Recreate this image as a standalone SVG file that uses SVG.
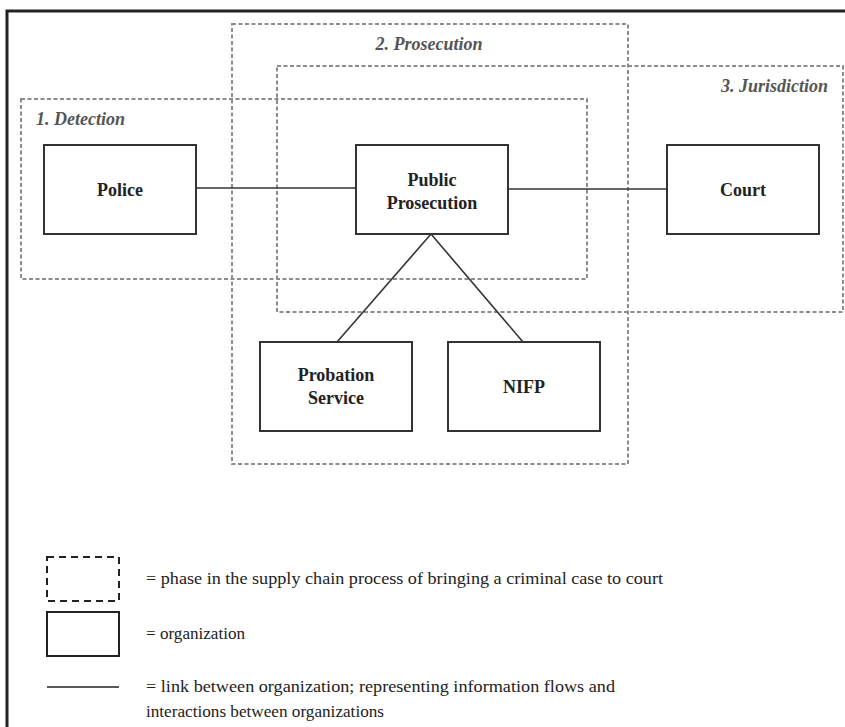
<svg xmlns="http://www.w3.org/2000/svg" width="845" height="727" viewBox="0 0 845 727">
<style>
.phase{fill:none;stroke:#8c8c8c;stroke-width:2;stroke-dasharray:4 2.5}
.org{fill:#fff;stroke:#333;stroke-width:2}
.link{stroke:#333;stroke-width:1.6;fill:none}
text{font-family:"Liberation Serif","Times New Roman",Times,"DejaVu Serif",serif}
.plabel{font-size:18px;font-weight:bold;font-style:italic;fill:#555}
.olabel{font-size:18px;font-weight:bold;fill:#222;text-anchor:middle}
.leg{font-size:17px;fill:#222}
</style>
<rect width="845" height="727" fill="#fff"/>
<g id="frame">
<path d="M7 727 V11 H845" fill="none" stroke="#222" stroke-width="3"/>
</g>
<g id="phase-prosecution">
<rect class="phase" x="232" y="24" width="396" height="440"/>
<text class="plabel" x="429" y="50" text-anchor="middle" font-family="Liberation Serif, serif">2. Prosecution</text>
</g>
<g id="phase-jurisdiction">
<rect class="phase" x="277" y="66" width="566" height="246"/>
<text class="plabel" x="828" y="92" text-anchor="end" font-family="Liberation Serif, serif">3. Jurisdiction</text>
</g>
<g id="phase-detection">
<rect class="phase" x="21" y="99" width="566" height="180"/>
<text class="plabel" x="36" y="125" font-family="Liberation Serif, serif">1. Detection</text>
</g>
<g id="connectors">
<line class="link" x1="196" y1="188" x2="356" y2="188"/>
<line class="link" x1="508" y1="189" x2="667" y2="189"/>
<line class="link" x1="431" y1="234" x2="337" y2="342"/>
<line class="link" x1="431" y1="234" x2="523" y2="342"/>
</g>
<g id="police">
<rect class="org" x="44" y="145" width="152" height="89"/>
<text class="olabel" x="120" y="196">Police</text>
</g>
<g id="public-prosecution">
<rect class="org" x="356" y="145" width="152" height="89"/>
<text class="olabel" x="432" y="186">Public</text>
<text class="olabel" x="432" y="209">Prosecution</text>
</g>
<g id="court">
<rect class="org" x="667" y="145" width="152" height="89"/>
<text class="olabel" x="743" y="196">Court</text>
</g>
<g id="probation-service">
<rect class="org" x="260" y="342" width="152" height="89"/>
<text class="olabel" x="336" y="381">Probation</text>
<text class="olabel" x="336" y="404">Service</text>
</g>
<g id="nifp">
<rect class="org" x="448" y="342" width="152" height="89"/>
<text class="olabel" x="524" y="393">NIFP</text>
</g>
<g id="legend">
<rect x="47" y="557" width="72" height="44" fill="none" stroke="#222" stroke-width="2" stroke-dasharray="7 5"/>
<text class="leg" x="146" y="584" textLength="517" lengthAdjust="spacingAndGlyphs">= phase in the supply chain process of bringing a criminal case to court</text>
<rect x="47" y="612" width="72" height="44" fill="none" stroke="#222" stroke-width="2"/>
<text class="leg" x="146" y="639" textLength="99" lengthAdjust="spacingAndGlyphs">= organization</text>
<line x1="47" y1="687" x2="119" y2="687" stroke="#222" stroke-width="1.5"/>
<text class="leg" x="146" y="692" textLength="469" lengthAdjust="spacingAndGlyphs">= link between organization; representing information flows and</text>
<text class="leg" x="146" y="717" textLength="238" lengthAdjust="spacingAndGlyphs">interactions between organizations</text>
</g>
</svg>
